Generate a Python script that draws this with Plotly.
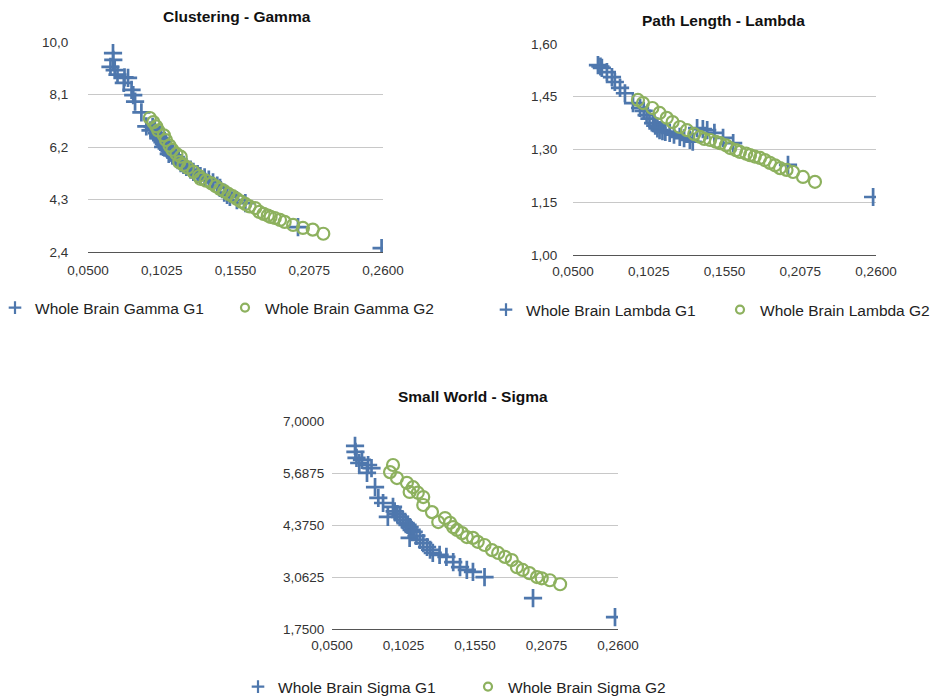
import plotly.graph_objects as go

# ---------------- data ----------------
gamma_g1_x = [0.0678, 0.0680, 0.0660, 0.0690, 0.0710, 0.0760, 0.0785, 0.0755, 0.0810, 0.0822,
              0.0835, 0.0880, 0.0915, 0.0960, 0.0945, 0.0975, 0.0990, 0.1000, 0.1010, 0.1020,
              0.1030, 0.1040, 0.1050, 0.1035, 0.1060, 0.1070, 0.1080, 0.1090, 0.1075, 0.1100,
              0.1120, 0.1140, 0.1160, 0.1180, 0.1200, 0.1230, 0.1250, 0.1280, 0.1300, 0.1330,
              0.1360, 0.1390, 0.1420, 0.1440, 0.1470, 0.1490, 0.1510, 0.1560, 0.1620, 0.1995, 0.2590]
gamma_g1_y = [9.60, 9.35, 9.10, 8.98, 8.82, 8.72, 8.70, 8.52, 8.27, 8.08,
              7.84, 7.45, 6.95, 6.93, 6.80, 6.85, 6.70, 6.60, 6.52, 6.45,
              6.38, 6.30, 6.25, 6.20, 6.15, 6.10, 6.05, 6.00, 5.95, 5.90,
              5.82, 5.72, 5.62, 5.55, 5.48, 5.38, 5.30, 5.22, 5.15, 5.10,
              5.02, 4.92, 4.80, 4.72, 4.55, 4.47, 4.39, 4.28, 4.17, 3.30, 2.54]
gamma_g2_x = [0.0940, 0.0965, 0.0985, 0.1000, 0.1040, 0.1055, 0.1080, 0.1100, 0.1130, 0.1160,
              0.1150, 0.1180, 0.1210, 0.1250, 0.1290, 0.1300, 0.1340, 0.1380, 0.1410, 0.1440,
              0.1470, 0.1500, 0.1530, 0.1560, 0.1590, 0.1620, 0.1650, 0.1690, 0.1720, 0.1750,
              0.1780, 0.1800, 0.1830, 0.1867, 0.1900, 0.1960, 0.2030, 0.2100, 0.2175]
gamma_g2_y = [7.25, 7.10, 6.95, 6.80, 6.62, 6.45, 6.25, 6.10, 5.95, 5.85,
              5.65, 5.55, 5.45, 5.30, 5.15, 5.05, 4.98, 4.88, 4.78, 4.68,
              4.60, 4.50, 4.42, 4.32, 4.22, 4.14, 4.05, 3.99, 3.85, 3.78,
              3.72, 3.67, 3.63, 3.56, 3.49, 3.38, 3.27, 3.21, 3.06]

lambda_g1_x = [0.0673, 0.0700, 0.0690, 0.0735, 0.0770, 0.0790, 0.0826, 0.0860, 0.0916, 0.0965,
               0.0990, 0.1010, 0.1030, 0.1055, 0.1070, 0.1085, 0.1100, 0.1120, 0.1140, 0.1170,
               0.1200, 0.1240, 0.1270, 0.1310, 0.1330, 0.1360, 0.1400, 0.1430, 0.1480, 0.1540,
               0.1610, 0.1990, 0.2580]
lambda_g1_y = [1.540, 1.532, 1.536, 1.520, 1.506, 1.492, 1.475, 1.460, 1.432, 1.418,
               1.410, 1.398, 1.388, 1.375, 1.368, 1.360, 1.355, 1.352, 1.350, 1.347,
               1.342, 1.336, 1.332, 1.327, 1.322, 1.361, 1.358, 1.355, 1.347, 1.333,
               1.318, 1.256, 1.165]
lambda_g2_x = [0.0950, 0.0985, 0.1050, 0.1100, 0.1150, 0.1190, 0.1240, 0.1290, 0.1340, 0.1380,
               0.1410, 0.1450, 0.1490, 0.1520, 0.1560, 0.1590, 0.1630, 0.1657, 0.1700, 0.1727,
               0.1760, 0.1796, 0.1830, 0.1865, 0.1900, 0.1935, 0.1980, 0.2025, 0.2094, 0.2177]
lambda_g2_y = [1.441, 1.432, 1.418, 1.404, 1.390, 1.378, 1.364, 1.355, 1.344, 1.336,
               1.330, 1.327, 1.322, 1.318, 1.312, 1.304, 1.298, 1.293, 1.288, 1.284,
               1.280, 1.276, 1.270, 1.262, 1.255, 1.247, 1.242, 1.236, 1.222, 1.208]

sigma_g1_x = [0.0669, 0.0672, 0.0680, 0.0720, 0.0700, 0.0765, 0.0790, 0.0757, 0.0816, 0.0840,
              0.0875, 0.0948, 0.0910, 0.0960, 0.0980, 0.1000, 0.1020, 0.1040, 0.1055, 0.1070,
              0.1085, 0.1100, 0.1070, 0.1120, 0.1146, 0.1170, 0.1198, 0.1220, 0.1240, 0.1290,
              0.1340, 0.1390, 0.1440, 0.1490, 0.1535, 0.1620, 0.1976, 0.2578]
sigma_g1_y = [6.37, 6.22, 6.07, 6.02, 5.94, 5.89, 5.81, 5.69, 5.33, 5.06,
              4.93, 4.83, 4.58, 4.72, 4.65, 4.58, 4.50, 4.42, 4.38, 4.32,
              4.25, 4.20, 4.05, 4.10, 4.00, 3.92, 3.82, 3.75, 3.67, 3.62,
              3.57, 3.44, 3.31, 3.24, 3.19, 3.06, 2.53, 2.05]
sigma_g2_x = [0.0948, 0.0926, 0.0977, 0.1050, 0.1095, 0.1070, 0.1130, 0.1170, 0.1170, 0.1234,
              0.1330, 0.1280, 0.1367, 0.1390, 0.1418, 0.1455, 0.1490, 0.1535, 0.1570, 0.1620,
              0.1675, 0.1720, 0.1770, 0.1820, 0.1858, 0.1900, 0.1950, 0.2005, 0.2040, 0.2100, 0.2175]
sigma_g2_y = [5.89, 5.71, 5.56, 5.44, 5.33, 5.21, 5.19, 5.08, 4.88, 4.70,
              4.55, 4.45, 4.43, 4.32, 4.25, 4.17, 4.07, 4.05, 3.95, 3.87,
              3.74, 3.67, 3.57, 3.49, 3.31, 3.24, 3.16, 3.06, 3.03, 2.98, 2.88]

x_ticks = [0.05, 0.1025, 0.155, 0.2075, 0.26]
gamma_ticks = [2.4, 4.3, 6.2, 8.1, 10.0]
lambda_ticks = [1.00, 1.15, 1.30, 1.45, 1.60]
sigma_ticks = [1.75, 3.0625, 4.375, 5.6875, 7.0]

BLUE = "#4e77ad"
GREEN = "#8db15e"
FONT = "Liberation Sans, Arial, sans-serif"

fig = go.Figure()

def add_pair(xs1, ys1, xs2, ys2, n1, n2, ax, leg):
    # data traces (not in legend)
    fig.add_trace(go.Scatter(
        x=xs1, y=ys1, mode="markers", name=n1, xaxis="x" + ax, yaxis="y" + ax, showlegend=False,
        marker=dict(symbol="cross-thin", size=13, color=BLUE, line=dict(width=2.7, color=BLUE))))
    fig.add_trace(go.Scatter(
        x=xs2, y=ys2, mode="markers", name=n2, xaxis="x" + ax, yaxis="y" + ax, showlegend=False,
        marker=dict(symbol="circle-open", size=12, color=GREEN, line=dict(width=2.2, color=GREEN))))
    # legend entries with the smaller legend glyphs
    fig.add_trace(go.Scatter(
        x=[None], y=[None], mode="markers", name=n1, xaxis="x" + ax, yaxis="y" + ax, legend=leg,
        marker=dict(symbol="cross-thin", size=9, color=BLUE, line=dict(width=2.2, color=BLUE))))
    fig.add_trace(go.Scatter(
        x=[None], y=[None], mode="markers", name=n2, xaxis="x" + ax, yaxis="y" + ax, legend=leg,
        marker=dict(symbol="circle-open", size=8, color=GREEN, line=dict(width=2.2, color=GREEN))))

add_pair(gamma_g1_x, gamma_g1_y, gamma_g2_x, gamma_g2_y,
         "Whole Brain Gamma G1", "Whole Brain Gamma G2", "", "legend")
add_pair(lambda_g1_x, lambda_g1_y, lambda_g2_x, lambda_g2_y,
         "Whole Brain Lambda G1", "Whole Brain Lambda G2", "2", "legend2")
add_pair(sigma_g1_x, sigma_g1_y, sigma_g2_x, sigma_g2_y,
         "Whole Brain Sigma G1", "Whole Brain Sigma G2", "3", "legend3")

W, H = 933, 698

def xax(l, r, anchor, ticklen):
    return dict(domain=[l / W, r / W], anchor=anchor, range=[0.05, 0.26], automargin=False,
                tickmode="array", tickvals=x_ticks, tickformat=".4f",
                showgrid=False, zeroline=False, showline=True, linecolor="#555555", linewidth=1,
                ticks="outside", ticklen=ticklen, tickcolor="rgba(0,0,0,0)",
                tickfont=dict(family=FONT, size=13.5, color="#333333"))

def yax(b, t, anchor, vals, fmt, rng, ticklen):
    return dict(domain=[1 - b / H, 1 - t / H], anchor=anchor, range=rng, automargin=False,
                tickmode="array", tickvals=vals, tickformat=fmt,
                showgrid=True, gridcolor="#c8c8c8", gridwidth=1, zeroline=False, showline=False,
                ticks="outside", ticklen=ticklen, tickcolor="rgba(0,0,0,0)",
                tickfont=dict(family=FONT, size=13.5, color="#333333"))

legend_common = dict(orientation="h", xanchor="left", yanchor="middle",
                     font=dict(family=FONT, size=15.5, color="#222222"),
                     entrywidthmode="pixels", bgcolor="rgba(0,0,0,0)")

fig.update_layout(
    width=W, height=H, margin=dict(l=0, r=0, t=0, b=0, autoexpand=False),
    paper_bgcolor="white", plot_bgcolor="white",
    separators=",.",
    xaxis=xax(88, 383, "y", 6),
    yaxis=yax(252, 42, "x", gamma_ticks, ".1f", [2.4, 10.0], 16),
    xaxis2=xax(573, 876, "y2", 4),
    yaxis2=yax(255, 44, "x2", lambda_ticks, ".2f", [1.0, 1.6], 12),
    xaxis3=xax(332, 618, "y3", 4),
    yaxis3=yax(629, 421, "x3", sigma_ticks, ".4f", [1.75, 7.0], 4),
    legend=dict(x=0, y=1 - 308 / H, entrywidth=190, indentation=-5, **legend_common),
    legend2=dict(x=486 / W, y=1 - 310 / H, entrywidth=189, **legend_common),
    legend3=dict(x=238 / W, y=1 - 687 / H, entrywidth=185, **legend_common),
    annotations=[
        dict(text="<b>Clustering - Gamma</b>", x=237 / W, y=1 - 17 / H, xref="paper", yref="paper",
             showarrow=False, xanchor="center", yanchor="middle",
             font=dict(family=FONT, size=15.5, color="#111111")),
        dict(text="<b>Path Length - Lambda</b>", x=723 / W, y=1 - 20 / H, xref="paper", yref="paper",
             showarrow=False, xanchor="center", yanchor="middle",
             font=dict(family=FONT, size=15.5, color="#111111")),
        dict(text="<b>Small World - Sigma</b>", x=473 / W, y=1 - 396 / H, xref="paper", yref="paper",
             showarrow=False, xanchor="center", yanchor="middle",
             font=dict(family=FONT, size=15.5, color="#111111")),
    ],
)

fig.write_html("out.html")
